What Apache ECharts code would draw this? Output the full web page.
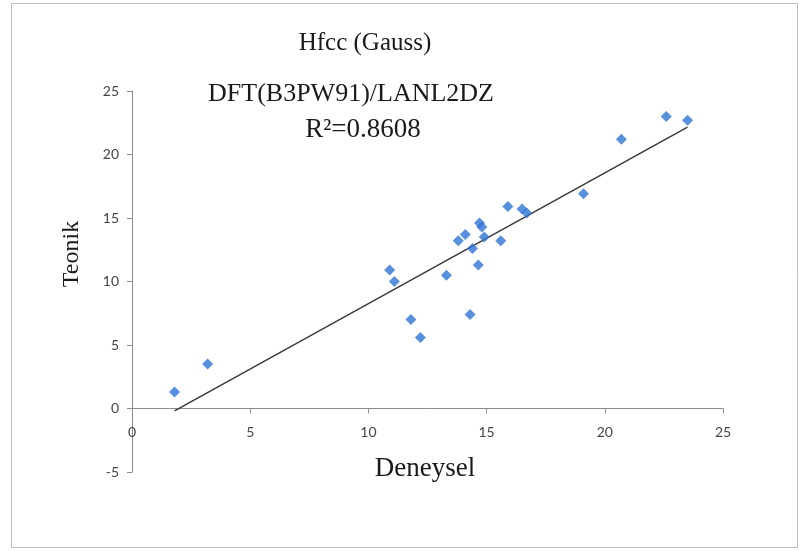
<!DOCTYPE html>
<html>
<head>
<meta charset="utf-8">
<script src="https://cdn.jsdelivr.net/npm/echarts@6/dist/echarts.min.js"></script>
<style>
  html, body { margin: 0; padding: 0; background: #fff; }
  #chart { width: 805px; height: 551px; }
</style>
</head>
<body>
<div id="chart"></div>
<script>
// experimental vs theoretical Hfcc values (Gauss)
const deneysel = [1.8, 3.2, 10.9, 11.1, 11.8, 12.2, 13.3, 13.8, 14.1, 14.3, 14.4, 14.65,
  14.7, 14.8, 14.9, 15.6, 15.9, 16.5, 16.7, 19.1, 20.7, 22.6, 23.5];
const teonik = [1.3, 3.5, 10.9, 10.0, 7.0, 5.6, 10.5, 13.2, 13.7, 7.4, 12.6, 11.3,
  14.6, 14.3, 13.5, 13.2, 15.9, 15.7, 15.4, 16.9, 21.2, 23.0, 22.7];
const xTicks = [0, 5, 10, 15, 20, 25];
const yTicks = [-5, 0, 5, 10, 15, 20, 25];

const points = deneysel.map((x, i) => [x, teonik[i]]);

// least squares trend line over the data range (like Excel's linear trendline)
const n = points.length;
const mx = deneysel.reduce((a, b) => a + b, 0) / n;
const my = teonik.reduce((a, b) => a + b, 0) / n;
let sxy = 0, sxx = 0;
points.forEach(([x, y]) => { sxy += (x - mx) * (y - my); sxx += (x - mx) * (x - mx); });
const slope = sxy / sxx;
const intercept = my - slope * mx;
const xMin = Math.min(...deneysel), xMax = Math.max(...deneysel);
const trend = [[xMin, slope * xMin + intercept], [xMax, slope * xMax + intercept]];

const chart = echarts.init(document.getElementById('chart'));

const gridTop = 91, gridBottom = 79;
const plotH = 551 - gridTop - gridBottom;
// x axis sits on y = 0, so lift it from the grid bottom by that distance
const zeroLift = plotH * (0 - yTicks[0]) / (yTicks[yTicks.length - 1] - yTicks[0]);

const axisLabel = { color: '#454545', fontFamily: 'Lato', fontSize: 14 };
const axisLine = { lineStyle: { color: '#8c8c8c', width: 1 } };

chart.setOption({
  animation: false,
  grid: { left: 132, right: 82, top: gridTop, bottom: gridBottom },
  xAxis: {
    type: 'value',
    min: xTicks[0],
    max: xTicks[xTicks.length - 1],
    interval: 5,
    offset: -zeroLift,
    axisLine: { onZero: false, ...axisLine },
    axisTick: { show: true, length: 5, lineStyle: { color: '#8c8c8c' } },
    axisLabel: { ...axisLabel, margin: 17 },
    splitLine: { show: false }
  },
  yAxis: {
    type: 'value',
    min: yTicks[0],
    max: yTicks[yTicks.length - 1],
    interval: 5,
    axisLine: { show: true, onZero: false, ...axisLine },
    axisTick: { show: true, length: 5, lineStyle: { color: '#8c8c8c' } },
    axisLabel: { ...axisLabel, margin: 13 },
    splitLine: { show: false }
  },
  graphic: [
    {
      type: 'rect',
      shape: { x: 11.5, y: 3.5, width: 786, height: 544 },
      style: { fill: 'none', stroke: '#bdbdbd', lineWidth: 1 },
      silent: true
    },
    {
      type: 'text', x: 365, y: 43,
      style: { text: 'Hfcc (Gauss)', font: '25px "Liberation Serif"', fill: '#1a1a1a', textAlign: 'center', textVerticalAlign: 'middle' }
    },
    {
      type: 'text', x: 351, y: 94,
      style: { text: 'DFT(B3PW91)/LANL2DZ', font: '26px "Liberation Serif"', fill: '#1a1a1a', textAlign: 'center', textVerticalAlign: 'middle' }
    },
    {
      type: 'text', x: 363, y: 130,
      style: { text: 'R\u00b2=0.8608', font: '27px "Liberation Serif"', fill: '#1a1a1a', textAlign: 'center', textVerticalAlign: 'middle' }
    },
    {
      type: 'text', x: 425, y: 469,
      style: { text: 'Deneysel', font: '27px "Liberation Serif"', fill: '#1a1a1a', textAlign: 'center', textVerticalAlign: 'middle' }
    },
    {
      type: 'text', x: 72, y: 254, rotation: Math.PI / 2,
      style: { text: 'Teonik', font: '24px "Liberation Serif"', fill: '#1a1a1a', textAlign: 'center', textVerticalAlign: 'middle' }
    }
  ],
  series: [
    {
      name: 'Trend',
      type: 'line',
      data: trend,
      symbol: 'none',
      lineStyle: { color: '#3a3a3a', width: 1.5 },
      z: 1
    },
    {
      name: 'Hfcc',
      type: 'scatter',
      data: points,
      symbol: 'diamond',
      symbolSize: 11,
      itemStyle: { color: '#2f74d4' },
      z: 2
    }
  ]
});
</script>
</body>
</html>
